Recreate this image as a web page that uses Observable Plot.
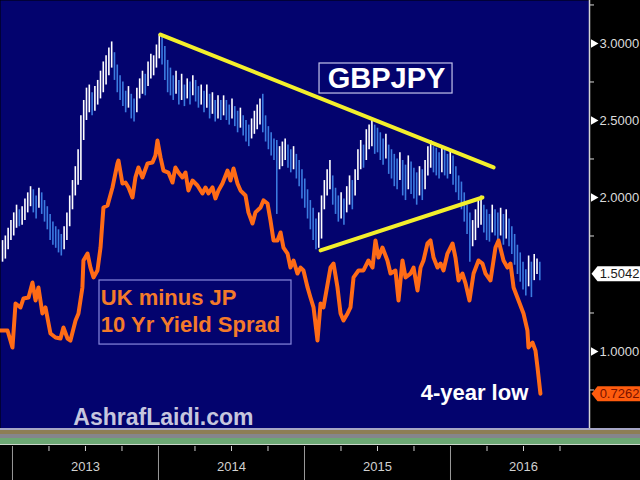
<!DOCTYPE html>
<html>
<head>
<meta charset="utf-8">
<script src="https://cdn.jsdelivr.net/npm/d3@7"></script>
<script src="https://cdn.jsdelivr.net/npm/@observablehq/plot@0.6"></script>
<style>
html,body{margin:0;padding:0;background:#000;}
#chart{width:640px;height:480px;overflow:hidden;}
</style>
</head>
<body>
<div id="chart"></div>
<script>
// ---- GBPJPY weekly bars (scaled /100), first bar week in decimal years ----
const barStart = 2012.932;
const gbpHigh = [
1.72,1.75,1.80,1.85,1.90,1.95,1.92,1.94,1.99,2.03,
2.07,2.05,2.01,2.06,2.03,1.98,1.94,1.89,1.84,1.81,
1.79,1.76,1.81,1.90,2.01,2.11,2.20,2.31,2.53,2.63,
2.71,2.73,2.68,2.72,2.76,2.82,2.88,2.92,2.97,3.01,
2.94,2.86,2.79,2.75,2.69,2.72,2.67,2.64,2.71,2.77,
2.82,2.80,2.88,2.93,2.92,2.99,3.06,3.05,2.98,2.89,
2.84,2.79,2.82,2.76,2.80,2.73,2.77,2.75,2.79,2.76,
2.72,2.73,2.69,2.73,2.67,2.68,2.63,2.66,2.63,2.66,
2.63,2.60,2.64,2.59,2.56,2.58,2.53,2.50,2.47,2.51,
2.56,2.60,2.64,2.67,2.53,2.46,2.42,2.38,2.37,2.33,
2.36,2.38,2.34,2.31,2.33,2.28,2.24,2.18,2.12,2.05,
1.98,1.93,1.86,1.90,2.01,2.11,2.18,2.24,2.14,2.06,
2.01,2.03,1.99,2.07,2.14,2.11,2.18,2.31,2.37,2.34,
2.44,2.47,2.50,2.47,2.45,2.42,2.38,2.41,2.34,2.31,
2.28,2.25,2.29,2.24,2.21,2.27,2.23,2.19,2.16,2.20,
2.18,2.24,2.33,2.37,2.33,2.32,2.29,2.33,2.31,2.28,
2.31,2.27,2.20,2.14,2.10,2.03,1.95,1.90,1.85,1.92,
1.99,2.01,1.95,1.92,1.89,1.95,1.92,1.90,1.93,1.89,
1.92,1.86,1.81,1.76,1.69,1.64,1.58,1.53,1.62,1.58,
1.63,1.60,1.58
];
const gbpLow = [
1.58,1.60,1.66,1.72,1.75,1.80,1.81,1.82,1.85,1.90,
1.94,1.90,1.86,1.93,1.89,1.84,1.79,1.72,1.69,1.67,
1.64,1.62,1.66,1.72,1.81,1.92,2.01,2.08,2.11,2.37,
2.50,2.55,2.53,2.56,2.60,2.64,2.68,2.73,2.79,2.84,
2.76,2.68,2.63,2.59,2.55,2.58,2.51,2.49,2.55,2.64,
2.67,2.66,2.72,2.77,2.79,2.84,2.90,2.86,2.76,2.68,
2.66,2.63,2.67,2.60,2.63,2.59,2.64,2.60,2.66,2.62,
2.58,2.60,2.55,2.58,2.51,2.54,2.49,2.51,2.50,2.53,
2.50,2.47,2.51,2.46,2.42,2.45,2.40,2.36,2.33,2.38,
2.41,2.44,2.47,2.42,2.36,2.31,2.27,2.24,1.89,2.18,
2.20,2.24,2.19,2.16,2.18,2.12,2.07,1.99,1.93,1.86,
1.79,1.72,1.66,1.67,1.73,1.92,2.01,2.05,1.95,1.89,
1.84,1.86,1.82,1.90,1.95,1.92,2.01,2.11,2.18,2.19,
2.24,2.31,2.33,2.28,2.29,2.24,2.21,2.25,2.15,2.12,
2.07,2.05,2.11,2.01,1.98,2.05,2.02,1.99,1.95,2.01,
1.98,2.05,2.14,2.19,2.16,2.14,2.12,2.16,2.14,2.12,
2.15,2.08,2.03,1.98,1.92,1.84,1.76,1.58,1.68,1.72,
1.80,1.82,1.77,1.72,1.71,1.77,1.75,1.72,1.75,1.69,
1.73,1.68,1.63,1.56,1.50,1.45,1.40,1.36,1.42,1.35,
1.46,1.50,1.46
];

// ---- UK minus JP 10Y yield spread ----
const spreadT = [
2012.918,2012.966,2013.000,2013.021,2013.055,2013.075,2013.110,2013.137,2013.158,2013.178,
2013.205,2013.226,2013.260,2013.295,2013.329,2013.349,2013.377,2013.397,2013.432,2013.452,
2013.479,2013.486,2013.514,2013.534,2013.555,2013.582,2013.603,2013.623,2013.651,2013.685,
2013.719,2013.726,2013.753,2013.774,2013.795,2013.822,2013.842,2013.863,2013.890,2013.925,
2013.959,2013.979,2013.993,2014.014,2014.034,2014.068,2014.096,2014.116,2014.137,2014.164,
2014.185,2014.205,2014.233,2014.267,2014.301,2014.322,2014.342,2014.370,2014.390,2014.411,
2014.438,2014.473,2014.493,2014.514,2014.541,2014.562,2014.596,2014.616,2014.644,2014.664,
2014.699,2014.719,2014.747,2014.767,2014.788,2014.815,2014.836,2014.856,2014.884,2014.904,
2014.925,2014.952,2014.973,2014.993,2015.021,2015.041,2015.062,2015.089,2015.110,2015.130,
2015.178,2015.199,2015.226,2015.247,2015.267,2015.295,2015.315,2015.336,2015.370,2015.404,
2015.438,2015.466,2015.486,2015.507,2015.534,2015.568,2015.589,2015.623,2015.644,2015.671,
2015.692,2015.726,2015.747,2015.774,2015.795,2015.815,2015.842,2015.863,2015.884,2015.911,
2015.932,2015.952,2015.979,2016.014,2016.034,2016.055,2016.082,2016.103,2016.130,2016.158,
2016.192,2016.219,2016.240,2016.274,2016.308,2016.329,2016.363,2016.390,2016.411,2016.432,
2016.466,2016.500,2016.527,2016.534,2016.562,2016.582,2016.596,2016.616
];
const spreadV = [
1.136,1.136,1.026,1.312,1.286,1.344,1.351,1.448,1.331,1.416,
1.247,1.286,1.117,1.091,1.084,1.156,1.084,1.071,1.201,1.247,
1.416,1.591,1.636,1.545,1.481,1.526,1.675,1.935,1.948,2.065,
2.221,2.240,2.091,2.097,2.065,2.000,2.130,2.195,2.130,2.221,
2.227,2.273,2.370,2.260,2.175,2.162,2.097,2.195,2.162,2.130,
2.162,2.045,2.110,2.078,2.026,2.065,2.026,2.065,1.994,2.045,
2.091,2.175,2.110,2.188,2.091,2.045,2.013,1.903,1.831,1.903,
1.935,1.981,1.961,1.851,1.721,1.721,1.773,1.675,1.636,1.545,
1.591,1.506,1.545,1.526,1.416,1.351,1.286,1.071,1.312,1.286,
1.545,1.571,1.416,1.247,1.201,1.247,1.286,1.481,1.526,1.526,
1.591,1.545,1.721,1.610,1.675,1.591,1.506,1.526,1.331,1.591,
1.481,1.506,1.545,1.396,1.545,1.591,1.701,1.721,1.610,1.545,
1.571,1.526,1.636,1.701,1.610,1.461,1.506,1.442,1.331,1.506,
1.591,1.571,1.506,1.461,1.675,1.721,1.591,1.545,1.571,1.416,
1.331,1.247,1.136,1.026,1.058,1.006,0.896,0.7262
];

// ---- hand-drawn trend lines ----
const upperTrendT = [2014.014, 2016.295];
const upperTrendV = [3.058, 2.195];
const lowerTrendT = [2015.110, 2016.219];
const lowerTrendV = [1.656, 2.000];

// ---- axes ----
const xDomain = [2012.918, 2016.952];
const yDomain = [0.5, 3.279];
const majorTicks = [1, 2, 2.5, 3];
const minorTicks = [0.75, 1.25, 1.75, 2.25, 2.75, 3.25];
const yearStarts = [2013, 2014, 2015, 2016];
const yearLabels = ["2013", "2014", "2015", "2016"];
const quarterTicks = [2013.25,2013.5,2013.75,2014.25,2014.5,2014.75,2015.25,2015.5,2015.75,2016.25,2016.5,2016.75];

// ---- last-value tags ----
const tagValues = [1.5042, 0.7262];
const tagLabels = ["1.5042", "0.7262"];
const tagFills = ["#ffffff", "#ff5c0e"];
const tagTextColors = ["#1a1a1a", "#7a1200"];

// ---- annotations ----
const boxX1 = [2015.103, 2013.596];
const boxX2 = [2016.014, 2014.911];
const boxY1 = [2.675, 1.045];
const boxY2 = [2.870, 1.461];
const boxStroke = ["#c4c4ec", "#8888dd"];

const bars = gbpHigh.map((h, i) => ({
  t: barStart + i * 7 / 365.25,
  hi: h,
  lo: gbpLow[i]
}));
bars.forEach((b, i) => {
  b.up = i === 0 ? true : (b.hi + b.lo) >= (bars[i - 1].hi + bars[i - 1].lo);
});
const spread = spreadT.map((t, i) => ({t, v: spreadV[i]}));
const upper = upperTrendT.map((t, i) => ({t, v: upperTrendV[i]}));
const lower = lowerTrendT.map((t, i) => ({t, v: lowerTrendV[i]}));
const tags = tagValues.map((v, i) => ({v, label: tagLabels[i], fill: tagFills[i], ink: tagTextColors[i]}));
const boxes = boxX1.map((x1, i) => ({x1, x2: boxX2[i], y1: boxY1[i], y2: boxY2[i], s: boxStroke[i]}));

const tagSymbol = {
  draw(ctx) {
    ctx.moveTo(2, 0);
    ctx.lineTo(8, -7.5);
    ctx.lineTo(52, -7.5);
    ctx.lineTo(52, 7.5);
    ctx.lineTo(8, 7.5);
    ctx.closePath();
  }
};

const FONT = "Liberation Sans, Arial, Helvetica, sans-serif";
const NAVY = "#03036e";

const chart = Plot.plot({
  width: 640,
  height: 480,
  marginTop: 0,
  marginLeft: 0,
  marginRight: 51,
  marginBottom: 52,
  style: {background: "#000", fontFamily: FONT, overflow: "visible"},
  x: {type: "linear", domain: xDomain, axis: null},
  y: {type: "linear", domain: yDomain, axis: null},
  color: {type: "identity"},
  marks: [
    Plot.frame({fill: NAVY, stroke: null}),
    Plot.ruleX(bars, {x: "t", y1: "lo", y2: "hi", stroke: d => d.up ? "#ffffff" : "#3b7be0", strokeWidth: 1.6}),
    Plot.line(spread, {x: "t", y: "v", stroke: "#ff6b16", strokeWidth: 4, strokeLinejoin: "round", strokeLinecap: "round"}),
    Plot.line(upper, {x: "t", y: "v", stroke: "#f3ef2c", strokeWidth: 4}),
    Plot.line(lower, {x: "t", y: "v", stroke: "#f3ef2c", strokeWidth: 4}),
    Plot.rect(boxes, {x1: "x1", x2: "x2", y1: "y1", y2: "y2", fill: NAVY, stroke: "s", strokeWidth: 1.2}),
    Plot.text(["GBPJPY"], {x: 2015.562, y: 2.769, text: d => d, fill: "#ffffff", fontSize: 29, fontWeight: "bold", textAnchor: "middle"}),
    Plot.text(["UK minus JP", "10 Yr Yield Sprad"], {x: 2013.605, y: [1.347, 1.172], text: d => d, fill: "#f47a2a", fontSize: 22, fontWeight: "bold", textAnchor: "start"}),
    Plot.text(["4-year low"], {x: 2016.164, y: 0.731, text: d => d, fill: "#ffffff", fontSize: 22, fontWeight: "bold", textAnchor: "middle"}),
    Plot.text(["AshrafLaidi.com"], {x: 2014.034, y: 0.572, text: d => d, fill: "#c6c6de", fontSize: 23, fontWeight: "bold", textAnchor: "middle"}),
    // right axis
    Plot.ruleX([xDomain[1]], {stroke: "#d4d4d4", strokeWidth: 1.5}),
    Plot.axisY(minorTicks, {anchor: "right", tickSize: 4, tickFormat: () => "", stroke: "#d8d8d8"}),
    Plot.dot(majorTicks, {y: d => d, frameAnchor: "right", symbol: "triangle", rotate: 90, r: 3.2, fill: "#ffffff", stroke: null, dx: 4}),
    Plot.axisY(majorTicks, {anchor: "right", tickSize: 0, tickPadding: 10, tickFormat: d3.format(".4f"), fill: "#dcdcdc", fontSize: 13}),
    Plot.dot(tags, {y: "v", frameAnchor: "right", symbol: tagSymbol, fill: "fill", stroke: null, r: 5}),
    Plot.text(tags, {y: "v", frameAnchor: "right", text: "label", fill: "ink", fontSize: 13, dx: 30, textAnchor: "middle"}),
    // bottom axis
    Plot.axisX(quarterTicks, {anchor: "bottom", tickSize: 5, tickFormat: () => "", stroke: "#cfcfcf", dy: 18}),
    Plot.axisX(yearStarts, {anchor: "bottom", tickSize: 34, tickFormat: () => "", stroke: "#9a9a9a", dy: 18}),
    Plot.text(yearStarts, {x: d => d + 0.5, text: (d, i) => yearLabels[i], frameAnchor: "bottom", dy: 42, fill: "#d0d0d0", fontSize: 13, textAnchor: "middle"})
  ]
});

document.getElementById("chart").appendChild(chart);

// decorative indicator strip below the price panel
const svg = d3.select(chart);
const yb = chart.scale("y").apply(yDomain[0]);
const bands = [
  {dy: 0, h: 2, c: "#a6a6c6"},
  {dy: 2, h: 4, c: "#8d7e55"},
  {dy: 6, h: 4, c: "#85858c"},
  {dy: 10, h: 6, c: "#6ca874"},
  {dy: 16, h: 1, c: "#cad6ca"}
];
const g = svg.append("g");
bands.forEach(b => {
  g.append("rect").attr("x", 0).attr("width", 640).attr("y", yb + b.dy).attr("height", b.h).attr("fill", b.c);
});
</script>
</body>
</html>
